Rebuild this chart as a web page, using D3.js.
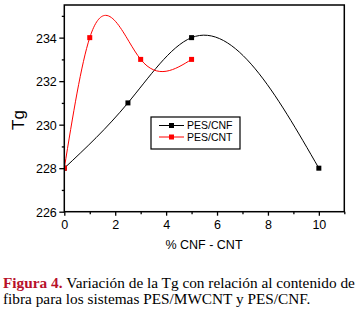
<!DOCTYPE html>
<html>
<head>
<meta charset="utf-8">
<script src="https://cdn.jsdelivr.net/npm/d3@7"></script>
<style>
  body { margin: 0; background: #fff; }
  svg { display: block; }
  .tick text { font-family: "Liberation Sans", Arial, sans-serif; font-size: 12.5px; fill: #000; }
  .label { font-family: "Liberation Sans", Arial, sans-serif; fill: #000; }
  .caption { font-family: "Liberation Serif", "Times New Roman", serif; font-size: 15.3px; fill: #000; }
</style>
</head>
<body>
<svg width="359" height="314"></svg>
<script>
// data
var seriesNames = ["PES/CNF", "PES/CNT"];
var cnfX = [0, 2.5, 5, 10];
var cnfTg = [228, 231, 234, 228];
var cntX = [0, 1, 3, 5];
var cntTg = [228, 234, 233, 233];
var xTicks = [0, 2, 4, 6, 8, 10];
var yTicks = [226, 228, 230, 232, 234];

var svg = d3.select('svg');

var x = d3.scaleLinear().domain([0, 11]).range([64.3, 344.3]);
var y = d3.scaleLinear().domain([226, 235.5]).range([211.7, 5]);

// natural cubic spline of y(x), drawn as bezier segments
function curveNaturalX(context) {
    var pts = [];
    return {
        areaStart: function(){}, areaEnd: function(){},
        lineStart: function(){ pts = []; },
        point: function(px, py){ pts.push([+px, +py]); },
        lineEnd: function(){
            var n = pts.length;
            if (!n) return;
            context.moveTo(pts[0][0], pts[0][1]);
            if (n < 3) { pts.slice(1).forEach(function(p){ context.lineTo(p[0], p[1]); }); return; }
            var h = [], M = new Array(n).fill(0);
            for (var i = 0; i < n - 1; i++) h.push(pts[i+1][0] - pts[i][0]);
            // thomas algorithm for the inner second derivatives
            var a = [], b = [], c = [], r = [];
            for (var i = 1; i < n - 1; i++) {
                a.push(h[i-1]); b.push(2 * (h[i-1] + h[i])); c.push(h[i]);
                r.push(6 * ((pts[i+1][1] - pts[i][1]) / h[i] - (pts[i][1] - pts[i-1][1]) / h[i-1]));
            }
            var m = b.length;
            for (var i = 1; i < m; i++) {
                var w = a[i] / b[i-1];
                b[i] -= w * c[i-1]; r[i] -= w * r[i-1];
            }
            var sol = new Array(m);
            sol[m-1] = r[m-1] / b[m-1];
            for (var i = m - 2; i >= 0; i--) sol[i] = (r[i] - c[i] * sol[i+1]) / b[i];
            for (var i = 0; i < m; i++) M[i+1] = sol[i];
            for (var i = 0; i < n - 1; i++) {
                var x0 = pts[i][0], y0 = pts[i][1], x1 = pts[i+1][0], y1 = pts[i+1][1], hh = h[i];
                var s = (y1 - y0) / hh;
                var d0 = s - hh * (2 * M[i] + M[i+1]) / 6;
                var d1 = s + hh * (M[i] + 2 * M[i+1]) / 6;
                context.bezierCurveTo(x0 + hh / 3, y0 + d0 * hh / 3, x1 - hh / 3, y1 - d1 * hh / 3, x1, y1);
            }
        }
    };
}

svg.append('defs').append('clipPath').attr('id', 'plotClip')
    .append('rect')
    .attr('x', x(0)).attr('y', y(235.5))
    .attr('width', x(11) - x(0)).attr('height', y(226) - y(235.5));

var series = [
    { name: seriesNames[0], xs: cnfX, ys: cnfTg, color: '#000000' },
    { name: seriesNames[1], xs: cntX, ys: cntTg, color: '#ff0000' }
];

var line = d3.line().x(function(d){ return x(d[0]); }).y(function(d){ return y(d[1]); }).curve(curveNaturalX);

var plot = svg.append('g').attr('clip-path', 'url(#plotClip)');
series.forEach(function(s){
    var pts = s.xs.map(function(v, i){ return [v, s.ys[i]]; });
    plot.append('path')
        .attr('d', line(pts))
        .attr('fill', 'none')
        .attr('stroke', s.color)
        .attr('stroke-width', 1);
    plot.selectAll(null).data(pts).enter().append('rect')
        .attr('x', function(d){ return x(d[0]) - 2.5; })
        .attr('y', function(d){ return y(d[1]) - 2.5; })
        .attr('width', 5).attr('height', 5)
        .attr('fill', s.color);
});

// axes
var xAxis = svg.append('g').attr('transform', 'translate(0,' + y(226) + ')')
    .call(d3.axisBottom(x).tickValues(xTicks).tickSize(4).tickSizeOuter(0).tickPadding(4.5));
var xMinor = svg.append('g').attr('transform', 'translate(0,' + y(226) + ')')
    .call(d3.axisBottom(x).tickValues([1, 3, 5, 7, 9, 11]).tickSize(2.5).tickSizeOuter(0).tickFormat(''));
var yAxis = svg.append('g').attr('transform', 'translate(' + x(0) + ',0)')
    .call(d3.axisLeft(y).tickValues(yTicks).tickSize(5).tickSizeOuter(0).tickPadding(2.5));
var yMinor = svg.append('g').attr('transform', 'translate(' + x(0) + ',0)')
    .call(d3.axisLeft(y).tickValues([227, 229, 231, 233, 235]).tickSize(2.5).tickSizeOuter(0).tickFormat(''));

[xAxis, xMinor, yAxis, yMinor].forEach(function(g){
    g.select('.domain').remove();
    g.selectAll('.tick line').attr('stroke', '#000').attr('stroke-width', 1.3);
});
yAxis.selectAll('.tick text').attr('dy', '0.36em');

svg.append('rect')
    .attr('x', x(0)).attr('y', y(235.5))
    .attr('width', x(11) - x(0)).attr('height', y(226) - y(235.5))
    .attr('fill', 'none').attr('stroke', '#000').attr('stroke-width', 1.5);

svg.append('text').attr('class', 'label')
    .text('Tg')
    .style('font-size', '17px')
    .attr('text-anchor', 'middle')
    .attr('transform', 'translate(24,120) rotate(-90)');

svg.append('text').attr('class', 'label')
    .text('% CNF - CNT')
    .style('font-size', '12.5px')
    .attr('text-anchor', 'middle')
    .attr('x', 204).attr('y', 248.5);

// legend
var legend = svg.append('g').attr('transform', 'translate(151,117)');
legend.append('rect').attr('width', 89).attr('height', 32)
    .attr('fill', '#fff').attr('stroke', '#000').attr('stroke-width', 1.2);
series.forEach(function(s, i){
    var row = legend.append('g').attr('transform', 'translate(0,' + (8.5 + i * 11.5) + ')');
    row.append('line').attr('x1', 8).attr('x2', 33).attr('stroke', s.color).attr('stroke-width', 1);
    row.append('rect').attr('x', 18).attr('y', -2.5).attr('width', 5).attr('height', 5).attr('fill', s.color);
    row.append('text').attr('class', 'label').text(s.name)
        .style('font-size', '10.5px').attr('x', 36).attr('y', 3.8);
});

// caption: bold red lead-in, then plain text placed after it
var capLead = svg.append('text').attr('class', 'caption').attr('x', 3).attr('y', 287.8)
    .style('font-weight', 'bold').style('fill', '#b8102a')
    .text('Figura 4.');
var leadW = capLead.node().getComputedTextLength();
svg.append('text').attr('class', 'caption').attr('x', 3 + leadW + 3.8).attr('y', 287.8)
    .text('Variación de la Tg con relación al contenido de');
svg.append('text').attr('class', 'caption').attr('x', 3).attr('y', 303.5)
    .text('fibra para los sistemas PES/MWCNT y PES/CNF.');
</script>
</body>
</html>
